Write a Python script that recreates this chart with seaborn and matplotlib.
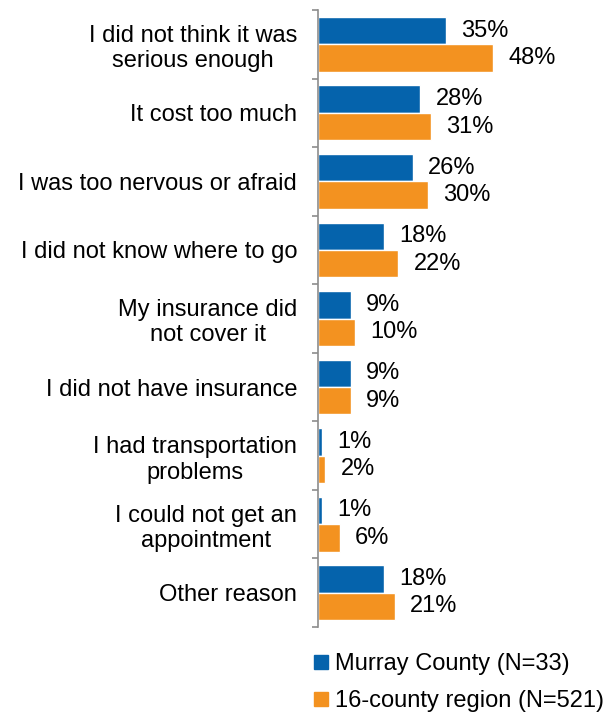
import matplotlib
matplotlib.use("Agg")
import matplotlib.pyplot as plt
from matplotlib.lines import Line2D
import pandas as pd
import seaborn as sns

reasons = [
    "I did not think it was\nserious enough",
    "It cost too much",
    "I was too nervous or afraid",
    "I did not know where to go",
    "My insurance did\nnot cover it",
    "I did not have insurance",
    "I had transportation\nproblems",
    "I could not get an\nappointment",
    "Other reason",
]
murray = [35, 28, 26, 18, 9, 9, 1, 1, 18]
region = [48, 31, 30, 22, 10, 9, 2, 6, 21]
series = ["Murray County (N=33)", "16-county region (N=521)"]
colors = ["#0563AC", "#F39220"]

df = pd.DataFrame({
    "reason": reasons * 2,
    "pct": murray + region,
    "group": [series[0]] * len(reasons) + [series[1]] * len(reasons),
})

sns.set_style("white")
plt.rcParams["font.family"] = ["Liberation Sans", "DejaVu Sans"]
plt.rcParams["text.color"] = "black"
plt.rcParams["ytick.color"] = "black"

fs = 17

fig = plt.figure(figsize=(6.12, 7.14), dpi=100)
ax = fig.add_axes([318 / 612, 1 - 627 / 714, 1 - 318 / 612, 617 / 714])

sns.barplot(data=df, y="reason", x="pct", hue="group", palette=colors,
            orient="h", width=0.8, saturation=1, legend=False, ax=ax)

for cont in ax.containers:
    ax.bar_label(cont, fmt="{:.0f}%", padding=11, fontsize=fs, color="black")

ax.set_xlim(0, 80.5)
ax.set_ylim(len(reasons) - 0.5, -0.5)
ax.set_xlabel("")
ax.set_ylabel("")
ax.set_xticks([])
ax.tick_params(axis="y", which="major", left=False, length=0, pad=15,
               labelsize=fs, labelcolor="black")
ax.set_yticks([i - 0.5 for i in range(len(reasons) + 1)], minor=True)
ax.tick_params(axis="y", which="minor", left=True, length=4, width=1.2,
               color="#8c8c8c", direction="out")
for lbl in ax.get_yticklabels():
    lbl.set_horizontalalignment("right")
    lbl.set_multialignment("center")

for s in ["top", "right", "bottom"]:
    ax.spines[s].set_visible(False)
ax.spines["left"].set_color("#8c8c8c")
ax.spines["left"].set_linewidth(1.2)

handles = [Line2D([0], [0], marker="s", linestyle="none", markersize=10,
                  markerfacecolor=c, markeredgecolor=c) for c in colors]
fig.legend(handles, series, loc="upper left", bbox_to_anchor=(302 / 612, 1 - 644 / 714),
           frameon=False, fontsize=fs, handlelength=0.8, handletextpad=0.2,
           labelspacing=0.62, borderaxespad=0)

fig.savefig("out.png", dpi=100)
